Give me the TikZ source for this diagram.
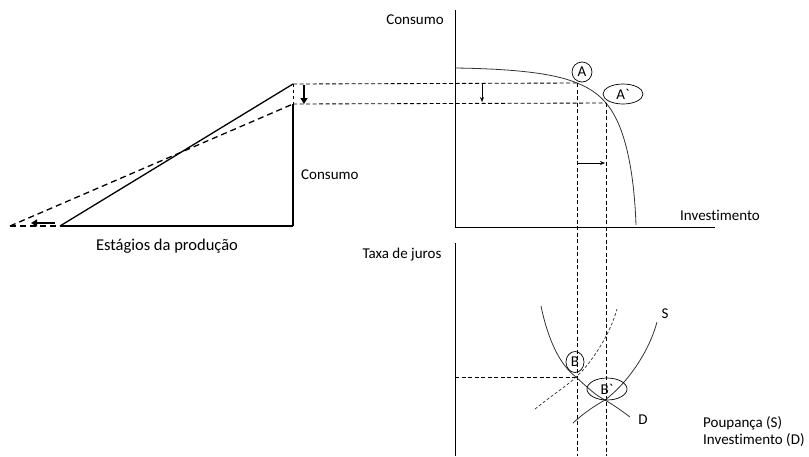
\documentclass[tikz,border=0pt]{standalone}
\usepackage{fontspec}
\newfontfamily\calib{Carlito}[Ligatures={NoCommon}]
\usetikzlibrary{arrows.meta,shapes.geometric}
\begin{document}
\begin{tikzpicture}[x=1pt,y=-1pt,
  lbl/.style={font=\calib\fontsize{15}{17}\selectfont, inner sep=0pt},
  axis/.style={line width=0.9pt},
  curve/.style={line width=0.8pt, black!80},
  guide/.style={dashed, dash pattern=on 4pt off 2.5pt, line width=0.85pt},
  thin arrow/.style={-{Stealth[length=5pt,width=4pt]}, line width=0.6pt},
  thick arrow/.style={-{Triangle[length=6pt,width=7pt]}, line width=2pt},
  tri/.style={line width=1.3pt},
  tridash/.style={line width=1.3pt, dash pattern=on 6pt off 4pt},
  mark circ/.style={draw, line width=0.7pt, inner sep=0pt}
]
\useasboundingbox (0,0) rectangle (809,456);

% ---- top panel ----
\coordinate (tyTop) at (455,10);
\coordinate (tO) at (455,227);
\coordinate (txEnd) at (715,227);
\draw[axis] (tyTop) -- (tO) -- (txEnd);
\node[lbl, anchor=center] (consumoT) at (415,20) {Consumo};
\node[lbl, anchor=west] (investT) at (680,215) {Investimento};

\coordinate (ppf0) at (455,68);
\coordinate (A) at (577,83);
\coordinate (Ap) at (606,103);
\coordinate (ppf1) at (636,225);
\draw[curve] (ppf0) .. controls (530,69) and (560,76) .. (A)
  .. controls (592,89) and (600,96) .. (Ap)
  .. controls (625,125) and (634,170) .. (ppf1);

\node[mark circ, circle, minimum size=20pt, lbl] (cA) at (582,72) {A};
\node[mark circ, ellipse, minimum width=40pt, minimum height=20pt, lbl] (cAp) at (623,94) {A`};

% triangle top / guides
\coordinate (triTop) at (293,84);
\coordinate (triTop2) at (293,104);
\coordinate (triBR) at (293,226);
\coordinate (triBL) at (60,226);
\coordinate (triBL2) at (10,226);

\draw[guide] (triTop) -- (A);
\draw[guide] (triTop2) -- (Ap);
\coordinate (Abot) at (577,456);
\coordinate (Apbot) at (606,456);
\draw[guide] (A) -- (Abot);
\draw[guide] (Ap) -- (Apbot);

\coordinate (dA1) at (482,83);
\coordinate (dA2) at (482,102);
\draw[thin arrow] (dA1) -- (dA2);
\coordinate (rA1) at (577,163);
\coordinate (rA2) at (605,163);
\draw[thin arrow] (rA1) -- (rA2);

% ---- left triangle ----
\draw[tri] (triBL) -- (triTop);
\draw[tri] (triBL) -- (triBR);
\draw[tri] (triTop2) -- (triBR);
\draw[line width=1pt, dash pattern=on 3pt off 3pt] (triTop) -- (triTop2);
\draw[tridash] (triBL2) -- (triTop2);
\draw[tridash] (triBL2) -- (triBL);
\coordinate (lar1) at (55,223);
\coordinate (lar2) at (31,223);
\draw[thick arrow] (lar1) -- (lar2);
\coordinate (dar1) at (304,85);
\coordinate (dar2) at (304,104);
\draw[thick arrow] (dar1) -- (dar2);
\node[lbl, anchor=west] (consumoL) at (301,175) {Consumo};
\node[lbl, anchor=center, font=\calib\fontsize{16.5}{19}\selectfont] (estagios) at (167,246) {Estágios da produção};

% ---- bottom panel ----
\coordinate (byTop) at (455,243);
\coordinate (byBot) at (455,456);
\draw[axis] (byTop) -- (byBot);
\node[lbl, anchor=center] (taxa) at (402,255) {Taxa de juros};

\coordinate (B) at (576,377);
\coordinate (Bp) at (605,400);
\coordinate (rateL) at (455,377);
\draw[guide] (rateL) -- (B);

\coordinate (D0) at (541,306);
\coordinate (D1) at (630,417);
\draw[curve] (D0) .. controls (548,340) and (560,365) .. (B)
  .. controls (590,390) and (597,396) .. (Bp)
  .. controls (615,406) and (622,411) .. (D1);

\coordinate (S0) at (573,423);
\coordinate (S1) at (657,322);
\draw[curve] (S0) .. controls (585,412) and (596,405) .. (Bp)
  .. controls (625,385) and (648,355) .. (S1);

\coordinate (So0) at (535,409);
\coordinate (So1) at (617,309);
\draw[curve, dash pattern=on 3pt off 2pt, line width=0.7pt] (So0) .. controls (555,393) and (568,385) .. (B)
  .. controls (590,365) and (610,335) .. (So1);

\node[mark circ, ellipse, minimum width=18pt, minimum height=21pt, lbl] (cB) at (575,362) {B};
\node[mark circ, ellipse, minimum width=40pt, minimum height=22pt, lbl] (cBp) at (607,389) {B`};

\node[lbl, anchor=center] (Slbl) at (665,314) {S};
\node[lbl, anchor=center] (Dlbl) at (643,420) {D};
\node[lbl, anchor=west] (poup) at (703,423) {Poupança (S)};
\node[lbl, anchor=west] (invD) at (703,440) {Investimento (D)};
\end{tikzpicture}
\end{document}
